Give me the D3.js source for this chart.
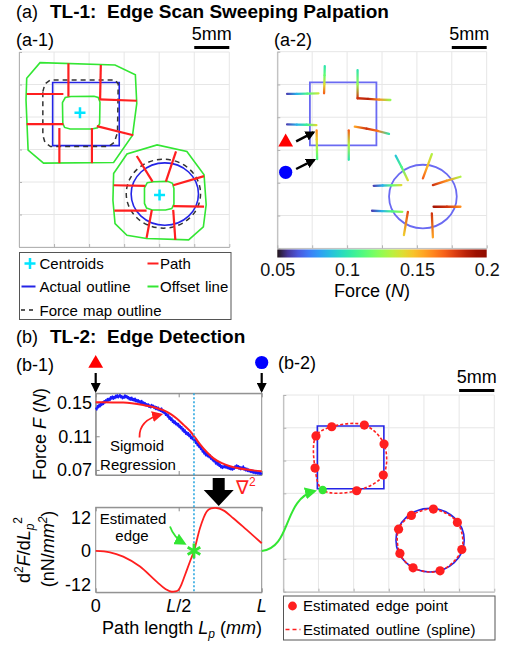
<!DOCTYPE html>
<html>
<head>
<meta charset="utf-8">
<script src="https://d3js.org/d3.v7.min.js"></script>
<style>
  body { margin: 0; background: #fff; }
  svg { font-family: "Liberation Sans", Arial, sans-serif; }
  .ax path, .ax line { stroke: #b3b3b3; }
  .bx path, .bx line { stroke: #8c8c8c; }
</style>
</head>
<body>
<script>

// ---------- data ----------
var gridMM = [0, 5, 10, 15, 20, 25, 30];

// (a-1) geometry in mm, y measured downward
var actualSquare = [[4.8, 4.7], [14.3, 4.7], [14.3, 14.4], [4.8, 14.4]];
var actualCircle = [20.8, 21.85, 4.8];   // cx, cy, r
var centroids = [[8.7, 9.35], [20.05, 22.0]];
var forceMapSquare = [[3.4, 6.1], [3.7, 4.9], [4.5, 4.3], [13.7, 4.3], [14.15, 4.9], [14.05, 12.4],
                      [13.6, 13.9], [12.8, 14.55], [4.5, 14.55], [3.7, 13.9], [3.4, 12.8]];
var forceMapCircle = [20.6, 21.8, 5.3];
var offsetInner = [
  [[6.2, 7.8], [6.6, 7.0], [7.4, 6.85], [10.7, 6.8], [11.3, 7.0], [11.55, 7.7], [11.5, 11.0],
   [11.2, 11.65], [10.4, 11.85], [7.3, 11.85], [6.5, 11.6], [6.25, 11.0]],
  [[17.9, 20.9], [18.3, 20.1], [19.2, 19.95], [21.2, 19.9], [21.9, 20.2], [22.1, 21.0], [22.1, 23.4],
   [21.8, 24.1], [20.9, 24.3], [19.0, 24.3], [18.2, 24.0], [17.9, 23.3]]
];
var offsetOuter = [
  [[1.1, 4.05], [3.0, 1.64], [13.7, 2.0], [16.6, 3.5], [16.8, 7.9], [16.2, 12.8], [13.5, 17.0],
   [3.5, 17.1], [1.3, 15.1], [1.0, 7.4]],
  [[13.5, 18.7], [15.4, 15.7], [19.7, 14.3], [23.95, 15.3], [26.4, 18.9], [26.7, 23.5], [26.3, 26.9],
   [24.2, 28.9], [18.2, 28.7], [15.4, 28.2], [13.7, 26.4], [13.4, 22.8]]
];
var scanPaths = [
  [[7.05, 1.74], [7.05, 6.87]], [[11.67, 2.0], [11.57, 7.28]], [[11.47, 7.28], [16.8, 7.5]],
  [[1.1, 6.46], [6.33, 6.46]], [[1.1, 11.1], [6.33, 11.1]], [[11.1, 11.4], [16.3, 12.8]],
  [[5.76, 11.7], [5.76, 17.1]], [[10.4, 11.7], [10.4, 17.1]],
  [[16.8, 16.0], [19.05, 19.95]], [[22.4, 15.3], [20.95, 19.95]], [[22.0, 20.5], [26.4, 19.1]],
  [[13.5, 20.5], [18.0, 20.6]], [[13.6, 24.4], [18.2, 24.4]], [[22.0, 23.7], [26.4, 23.8]],
  [[18.95, 24.3], [18.2, 28.6]], [[22.0, 24.3], [22.3, 28.9]]
];

// (a-2) force map traces: [x mm, y mm, force N]
var a2Square = [[4.67, 4.67], [14.2, 4.67], [14.2, 14.3], [4.67, 14.3]];
var a2Circle = [20.86, 22.1, 4.85];
var forceTraces = [
  [[1.4, 6.45, 0.06], [2.8, 6.43, 0.085], [4.3, 6.4, 0.11], [5.9, 6.36, 0.135]],
  [[6.8, 2.2, 0.1], [6.77, 3.6, 0.115], [6.74, 5.0, 0.14], [6.7, 6.35, 0.17]],
  [[11.5, 2.8, 0.1], [11.5, 5.0, 0.125], [11.5, 7.1, 0.18], [13.0, 7.2, 0.185], [14.6, 7.3, 0.16], [16.2, 7.37, 0.125]],
  [[1.4, 11.1, 0.06], [2.8, 11.12, 0.085], [4.2, 11.15, 0.105], [5.6, 11.2, 0.14]],
  [[5.63, 12.0, 0.16], [5.65, 13.4, 0.145], [5.68, 14.9, 0.125], [5.71, 16.4, 0.11]],
  [[10.24, 12.0, 0.17], [10.24, 14.2, 0.13], [10.24, 16.5, 0.1]],
  [[11.1, 11.45, 0.155], [12.8, 11.75, 0.18], [14.4, 12.1, 0.165], [16.0, 12.55, 0.1]],
  [[16.96, 15.88, 0.09], [17.8, 17.6, 0.11], [18.7, 19.6, 0.14]],
  [[22.14, 15.62, 0.13], [21.5, 17.5, 0.15], [20.86, 19.33, 0.17]],
  [[22.29, 20.35, 0.18], [24.2, 19.7, 0.16], [26.24, 19.08, 0.13]],
  [[13.81, 20.46, 0.06], [15.1, 20.42, 0.085], [16.4, 20.39, 0.115], [17.77, 20.35, 0.14]],
  [[13.57, 24.27, 0.06], [15.0, 24.32, 0.085], [16.4, 24.37, 0.11], [17.91, 24.43, 0.125]],
  [[22.39, 23.66, 0.19], [24.3, 23.66, 0.18], [26.24, 23.66, 0.16]],
  [[18.71, 24.43, 0.175], [18.14, 27.98, 0.145]],
  [[22.14, 24.67, 0.18], [22.29, 28.33, 0.155]]
];
var colorbarTicks = [0.05, 0.1, 0.15, 0.2];

// (b-1) measured force along one path, position as fraction of L
var rawPos = [0.000,0.006,0.011,0.016,0.021,0.026,0.031,0.036,0.041,0.046,0.051,0.056,0.061,0.066,0.071,0.076,
  0.081,0.086,0.091,0.096,0.101,0.106,0.111,0.116,0.121,0.126,0.131,0.136,0.141,0.146,0.151,0.156,0.161,0.166,
  0.171,0.176,0.181,0.187,0.192,0.197,0.202,0.207,0.212,0.217,0.222,0.227,0.232,0.237,0.242,0.247,0.252,0.257,
  0.262,0.267,0.272,0.277,0.282,0.287,0.292,0.297,0.302,0.307,0.312,0.317,0.322,0.327,0.332,0.337,0.342,0.347,
  0.352,0.357,0.362,0.367,0.372,0.377,0.382,0.387,0.392,0.397,0.402,0.407,0.412,0.417,0.422,0.428,0.433,0.438,
  0.443,0.448,0.453,0.458,0.463,0.468,0.473,0.478,0.483,0.488,0.493,0.498,0.503,0.508,0.513,0.518,0.523,0.528,
  0.533,0.538,0.543,0.548,0.553,0.558,0.563,0.568,0.573,0.578,0.583,0.588,0.593,0.598,0.603,0.608,0.613,0.618,
  0.623,0.628,0.633,0.638,0.643,0.648,0.653,0.658,0.663,0.669,0.674,0.679,0.684,0.689,0.694,0.699,0.704,0.708,
  0.713,0.718,0.723,0.729,0.734,0.739,0.744,0.749,0.754,0.759,0.764,0.769,0.774,0.779,0.784,0.789,0.794,0.799,
  0.804,0.809,0.814,0.819,0.824,0.829,0.834,0.839,0.844,0.849,0.854,0.859,0.864,0.869,0.874,0.879,0.884,0.889,
  0.894,0.899,0.904,0.910,0.915,0.920,0.925,0.930,0.935,0.940,0.945,0.949,0.954,0.960,0.965,0.970,0.975,0.980,
  0.985,0.990,0.995,1.000];
var rawForce = [0.1440,0.1415,0.1462,0.1440,0.1478,0.1452,0.1490,0.1468,0.1505,0.1480,0.1520,0.1498,0.1530,
  0.1505,0.1545,0.1522,0.1550,0.1528,0.1568,0.1545,0.1575,0.1542,0.1570,0.1550,0.1585,0.1560,0.1590,0.1558,
  0.1575,0.1592,0.1560,0.1580,0.1548,0.1572,0.1555,0.1588,0.1560,0.1580,0.1550,0.1568,0.1535,0.1558,0.1530,
  0.1562,0.1528,0.1545,0.1520,0.1550,0.1512,0.1535,0.1508,0.1530,0.1498,0.1518,0.1490,0.1522,0.1485,0.1505,
  0.1478,0.1498,0.1465,0.1485,0.1458,0.1482,0.1445,0.1468,0.1440,0.1475,0.1445,0.1465,0.1432,0.1455,0.1420,
  0.1448,0.1415,0.1442,0.1405,0.1428,0.1398,0.1432,0.1385,0.1408,0.1372,0.1392,0.1350,0.1368,0.1330,0.1352,
  0.1305,0.1328,0.1290,0.1315,0.1268,0.1290,0.1252,0.1278,0.1238,0.1258,0.1225,0.1248,0.1205,0.1228,0.1190,
  0.1212,0.1165,0.1190,0.1148,0.1172,0.1125,0.1150,0.1115,0.1140,0.1098,0.1122,0.1075,0.1098,0.1062,0.1090,
  0.1045,0.1058,0.1015,0.1032,0.0990,0.1015,0.0968,0.0992,0.0945,0.0968,0.0915,0.0935,0.0892,0.0918,0.0870,
  0.0895,0.0860,0.0888,0.0848,0.0875,0.0830,0.0852,0.0812,0.0835,0.0798,0.0818,0.0772,0.0795,0.0760,0.0785,
  0.0745,0.0768,0.0728,0.0752,0.0720,0.0745,0.0728,0.0758,0.0725,0.0752,0.0718,0.0742,0.0710,0.0738,0.0705,
  0.0730,0.0700,0.0728,0.0712,0.0745,0.0725,0.0758,0.0722,0.0748,0.0712,0.0738,0.0705,0.0732,0.0715,0.0745,
  0.0702,0.0725,0.0692,0.0718,0.0685,0.0708,0.0680,0.0702,0.0672,0.0698,0.0668,0.0692,0.0662,0.0688,0.0658,
  0.0682,0.0655,0.0675,0.0652,0.0672,0.0650,0.0668];
var sigmoidFit = [[0,0.1505],[0.1,0.1502],[0.166,0.150],[0.287,0.147],[0.35,0.1445],[0.407,0.141],[0.45,0.1365],
  [0.488,0.131],[0.53,0.1235],[0.569,0.116],[0.6,0.108],[0.63,0.100],[0.67,0.091],[0.708,0.084],[0.76,0.078],
  [0.809,0.0744],[0.86,0.072],[0.91,0.0704],[0.96,0.0692],[1.0,0.0685]];
var secondDeriv = [[0,0],[0.086,-0.48],[0.166,-2.03],[0.267,-5.6],[0.367,-11.0],[0.42,-13.6],[0.458,-14.6],
  [0.48,-14.5],[0.498,-14.0],[0.518,-11.8],[0.538,-8.6],[0.568,-3.8],[0.592,0],[0.628,8.1],[0.669,14.1],
  [0.695,15.2],[0.719,15.4],[0.745,15.1],[0.769,14.5],[0.829,11.7],[0.91,7.5],[1.0,2.75]];
var edgePos = 0.592;
var forceTicks = [0.07, 0.11, 0.15];
var derivTicks = [-12, 0, 12];
var posTicks = [0, 0.5, 1];
var posTickLabels = ["0", "L/2", "L"];

// (b-2) estimated edge points, mm
var b2Square = [[4.84, 4.73], [14.3, 4.73], [14.3, 14.3], [4.84, 14.3]];
var b2Circle = [20.87, 22.14, 4.85];
var edgeSquare = [[5.6,14.5],[4.51,11.15],[4.65,6.24],[6.88,4.84],[11.52,4.58],[14.32,7.48],[14.22,12.21],[10.43,14.6]];
var edgeCircle = [[21.34,17.4],[24.75,19.43],[25.38,23.56],[22.29,26.82],[18.45,26.36],[16.58,24.17],[16.39,20.46],[18.21,18.37]];

// ---------- drawing ----------
var RED = "#ff1f1f", GREEN = "#33e633", BLUE = "#2424e6", CYAN = "#00e5ff";

var svg = d3.select("body").append("svg").attr("width", 516).attr("height", 646);
var defs = svg.append("defs");

function arrowMarker(id, color, size) {
  defs.append("marker").attr("id", id).attr("viewBox", "0 0 10 10")
    .attr("refX", 8).attr("refY", 5).attr("markerWidth", size).attr("markerHeight", size)
    .attr("markerUnits", "userSpaceOnUse").attr("orient", "auto")
    .append("path").attr("d", "M0,0L10,5L0,10z").attr("fill", color);
}
arrowMarker("arBlack", "#000", 10);
arrowMarker("arRed", RED, 11);
arrowMarker("arGreen", GREEN, 12);

function panel(x0, x1, y0, y1) {
  return { x: d3.scaleLinear().domain([0, 30]).range([x0, x1]),
           y: d3.scaleLinear().domain([0, 30]).range([y0, y1]) };
}

function drawGrid(p) {
  var g = svg.append("g");
  g.selectAll(".gx").data(gridMM).enter().append("line")
    .attr("x1", function(d) { return p.x(d); }).attr("x2", function(d) { return p.x(d); })
    .attr("y1", p.y(0)).attr("y2", p.y(30)).attr("stroke", "#e6e6e6");
  g.selectAll(".gy").data(gridMM).enter().append("line")
    .attr("y1", function(d) { return p.y(d); }).attr("y2", function(d) { return p.y(d); })
    .attr("x1", p.x(0)).attr("x2", p.x(30)).attr("stroke", "#e6e6e6");
  g.append("g").attr("class", "ax").attr("transform", "translate(0," + p.y(30) + ")")
    .call(d3.axisBottom(p.x).tickValues(gridMM).tickSize(-3).tickSizeOuter(0).tickFormat(""));
  g.append("g").attr("class", "ax").attr("transform", "translate(" + p.x(0) + ",0)")
    .call(d3.axisLeft(p.y).tickValues(gridMM).tickSize(-3).tickSizeOuter(0).tickFormat(""));
}

function ellipse(p, c) {
  return svg.append("ellipse").attr("cx", p.x(c[0])).attr("cy", p.y(c[1]))
    .attr("rx", p.x(c[0] + c[2]) - p.x(c[0])).attr("ry", p.y(c[1] + c[2]) - p.y(c[1]))
    .attr("fill", "none");
}

function scaleBar(p, ty) {
  svg.append("line").attr("x1", p.x(25)).attr("x2", p.x(30)).attr("y1", ty + 7.5).attr("y2", ty + 7.5)
    .attr("stroke", "#000").attr("stroke-width", 3);
  svg.append("text").attr("x", (p.x(25) + p.x(30)) / 2).attr("y", ty).attr("text-anchor", "middle")
    .attr("font-size", 18).text("5mm");
}

function label(x, y, txt, size, weight) {
  return svg.append("text").attr("x", x).attr("y", y).attr("font-size", size || 18)
    .attr("font-weight", weight || "normal").text(txt);
}

// titles
label(16, 18, "(a)", 18);
label(50, 18, "TL-1:  Edge Scan Sweeping Palpation", 19, "bold").style("white-space", "pre");
label(16, 46, "(a-1)", 18);
label(274, 46, "(a-2)", 18);
label(16, 343, "(b)", 18);
label(50, 343, "TL-2:  Edge Detection", 19, "bold").style("white-space", "pre");
label(16, 371, "(b-1)", 18);
label(278, 369, "(b-2)", 18);

// ---- (a-1) ----
var a1 = panel(19, 229.3, 52, 247);
drawGrid(a1);
scaleBar(a1, 40);
var lineA1 = d3.line().x(function(d) { return a1.x(d[0]); }).y(function(d) { return a1.y(d[1]); });
var closedA1 = d3.line().x(function(d) { return a1.x(d[0]); }).y(function(d) { return a1.y(d[1]); })
  .curve(d3.curveLinearClosed);

svg.selectAll(".outer").data(offsetOuter).enter().append("path")
  .attr("d", closedA1).attr("fill", "none").attr("stroke", GREEN).attr("stroke-width", 1.6);
svg.selectAll(".inner").data(offsetInner).enter().append("path")
  .attr("d", closedA1).attr("fill", "none").attr("stroke", GREEN).attr("stroke-width", 1.6);
svg.append("path").datum(actualSquare).attr("d", closedA1).attr("fill", "none")
  .attr("stroke", BLUE).attr("stroke-width", 1.6);
ellipse(a1, actualCircle).attr("stroke", BLUE).attr("stroke-width", 1.6);
svg.append("path").datum(forceMapSquare).attr("d", closedA1).attr("fill", "none")
  .attr("stroke", "#333").attr("stroke-width", 1.5).attr("stroke-dasharray", "5,4");
ellipse(a1, forceMapCircle).attr("stroke", "#333").attr("stroke-width", 1.5).attr("stroke-dasharray", "5,4");
svg.selectAll(".scan").data(scanPaths).enter().append("path")
  .attr("d", lineA1).attr("stroke", RED).attr("stroke-width", 2.2);
svg.selectAll(".cent").data(centroids).enter().append("path")
  .attr("transform", function(d) { return "translate(" + a1.x(d[0]) + "," + a1.y(d[1]) + ")"; })
  .attr("d", "M-5.5,0H5.5M0,-5.5V5.5").attr("stroke", CYAN).attr("stroke-width", 2.5);

// legend (a-1)
var lg1 = svg.append("g").attr("font-size", 15).style("word-spacing", "1px");
lg1.append("rect").attr("x", 19.5).attr("y", 252.5).attr("width", 211.5).attr("height", 67)
  .attr("fill", "#fff").attr("stroke", "#555");
lg1.append("path").attr("d", "M24.5,263.5H35.5M30,258V269").attr("stroke", CYAN).attr("stroke-width", 2.5);
lg1.append("text").attr("x", 39.5).attr("y", 268.5).text("Centroids");
lg1.append("line").attr("x1", 147.5).attr("x2", 158.5).attr("y1", 263.5).attr("y2", 263.5).attr("stroke", RED).attr("stroke-width", 2);
lg1.append("text").attr("x", 160).attr("y", 268.5).text("Path");
lg1.append("line").attr("x1", 21.5).attr("x2", 35.5).attr("y1", 286.5).attr("y2", 286.5).attr("stroke", BLUE).attr("stroke-width", 2);
lg1.append("text").attr("x", 39.5).attr("y", 292).text("Actual outline");
lg1.append("line").attr("x1", 147.5).attr("x2", 158.5).attr("y1", 286.5).attr("y2", 286.5).attr("stroke", GREEN).attr("stroke-width", 2);
lg1.append("text").attr("x", 160).attr("y", 292).text("Offset line");
lg1.append("line").attr("x1", 21).attr("x2", 36).attr("y1", 310).attr("y2", 310).attr("stroke", "#222")
  .attr("stroke-width", 1.6).attr("stroke-dasharray", "4,4");
lg1.append("text").attr("x", 39.5).attr("y", 315.5).text("Force map outline");

// ---- (a-2) ----
var a2 = panel(277.3, 486.7, 51.7, 248.3);
drawGrid(a2);
scaleBar(a2, 40);
var closedA2 = d3.line().x(function(d) { return a2.x(d[0]); }).y(function(d) { return a2.y(d[1]); })
  .curve(d3.curveLinearClosed);
svg.append("path").datum(a2Square).attr("d", closedA2).attr("fill", "none")
  .attr("stroke", "#6a6af2").attr("stroke-width", 1.8);
ellipse(a2, a2Circle).attr("stroke", "#6a6af2").attr("stroke-width", 1.8);

var forceColor = d3.scaleSequential(d3.interpolateTurbo).domain([0.05, 0.2]);
var gi = 0;
forceTraces.forEach(function(tr) {
  for (var i = 0; i < tr.length - 1; i++) {
    var a = tr[i], b = tr[i + 1], id = "fg" + (gi++);
    var grad = defs.append("linearGradient").attr("id", id).attr("gradientUnits", "userSpaceOnUse")
      .attr("x1", a2.x(a[0])).attr("y1", a2.y(a[1])).attr("x2", a2.x(b[0])).attr("y2", a2.y(b[1]));
    grad.append("stop").attr("offset", 0).attr("stop-color", forceColor(a[2]));
    grad.append("stop").attr("offset", 1).attr("stop-color", forceColor(b[2]));
    svg.append("line").attr("x1", a2.x(a[0])).attr("y1", a2.y(a[1])).attr("x2", a2.x(b[0])).attr("y2", a2.y(b[1]))
      .attr("stroke", "url(#" + id + ")").attr("stroke-width", 2.3).attr("stroke-linecap", "round");
  }
});

// start/end markers and arrows
svg.append("path").attr("d", d3.symbol().type(d3.symbolTriangle).size(95))
  .attr("transform", "translate(" + a2.x(1.2) + "," + a2.y(13.8) + ")").attr("fill", "#f00");
svg.append("circle").attr("cx", a2.x(1.2)).attr("cy", a2.y(18.4)).attr("r", 6.6).attr("fill", "#00f");
svg.append("line").attr("x1", a2.x(2.7)).attr("y1", a2.y(13.7)).attr("x2", a2.x(5.2)).attr("y2", a2.y(12.3))
  .attr("stroke", "#000").attr("stroke-width", 2.5).attr("marker-end", "url(#arBlack)");
svg.append("line").attr("x1", a2.x(2.7)).attr("y1", a2.y(17.9)).attr("x2", a2.x(5.3)).attr("y2", a2.y(16.5))
  .attr("stroke", "#000").attr("stroke-width", 2.5).attr("marker-end", "url(#arBlack)");

// colorbar
var cbx = d3.scaleLinear().domain([0.05, 0.2]).range([277.3, 486.7]);
var cbGrad = defs.append("linearGradient").attr("id", "cbGrad");
d3.range(0, 1.001, 0.05).forEach(function(t) {
  cbGrad.append("stop").attr("offset", t).attr("stop-color", d3.interpolateTurbo(t));
});
svg.append("rect").attr("x", cbx(0.05)).attr("y", 249.5).attr("width", cbx(0.2) - cbx(0.05)).attr("height", 8)
  .attr("fill", "url(#cbGrad)");
var cbAxis = svg.append("g").attr("transform", "translate(0,257.5)")
  .call(d3.axisBottom(cbx).tickValues(colorbarTicks).tickSize(0).tickPadding(6).tickFormat(d3.format("")));
cbAxis.select(".domain").remove();
cbAxis.selectAll("text").attr("font-size", 18).attr("font-family", "Liberation Sans, Arial, sans-serif").attr("fill", "#111");
var cbl = svg.append("text").attr("x", 372).attr("y", 297).attr("text-anchor", "middle").attr("font-size", 18);
cbl.append("tspan").text("Force (");
cbl.append("tspan").attr("font-style", "italic").text("N");
cbl.append("tspan").text(")");

// ---- (b-1) ----
var bx = d3.scaleLinear().domain([0, 1]).range([95.7, 261.7]);
var fy = d3.scaleLinear().domain([0.064, 0.161]).range([475, 393.3]);
var dy = d3.scaleLinear().domain([-14.8, 15.6]).range([592.3, 507.3]);

// top plot
svg.append("rect").attr("x", bx(0)).attr("y", fy(0.161)).attr("width", bx(1) - bx(0)).attr("height", fy(0.064) - fy(0.161))
  .attr("fill", "none").attr("stroke", "#8c8c8c");
svg.append("g").attr("class", "bx").attr("transform", "translate(0," + fy(0.064) + ")")
  .call(d3.axisBottom(bx).tickValues(posTicks).tickSize(-4).tickSizeOuter(0).tickFormat(""));
svg.append("g").attr("class", "bx").attr("transform", "translate(0," + fy(0.161) + ")")
  .call(d3.axisTop(bx).tickValues(posTicks).tickSize(-4).tickSizeOuter(0).tickFormat(""));
svg.append("g").attr("class", "bx").attr("transform", "translate(" + bx(0) + ",0)")
  .call(d3.axisLeft(fy).tickValues(forceTicks).tickSize(-4).tickSizeOuter(0).tickFormat(""));
svg.selectAll(".fyt").data(forceTicks).enter().append("text")
  .attr("x", 92).attr("y", function(d) { return fy(d) + 6.5; }).attr("text-anchor", "end").attr("font-size", 18)
  .text(function(d) { return d3.format(".2f")(d); });

var fLine = d3.line().x(function(d) { return bx(d[0]); }).y(function(d) { return fy(d[1]); });
svg.append("path").datum(d3.zip(rawPos, rawForce)).attr("d", fLine).attr("fill", "none")
  .attr("stroke", "#1a1aff").attr("stroke-width", 1.8).attr("stroke-linejoin", "round");
svg.append("path").datum(sigmoidFit).attr("d", fLine.curve(d3.curveMonotoneX)).attr("fill", "none")
  .attr("stroke", RED).attr("stroke-width", 2);

var sg = svg.append("g").attr("font-size", 15).attr("text-anchor", "middle");
sg.append("text").attr("x", 137).attr("y", 451).text("Sigmoid");
sg.append("text").attr("x", 138).attr("y", 469.5).text("Regression");
svg.append("path").attr("d", "M139.5,437.5C139,425 147,418 161,414.5").attr("fill", "none")
  .attr("stroke", RED).attr("stroke-width", 1.8).attr("marker-end", "url(#arRed)");

var yl1 = svg.append("text").attr("transform", "translate(46,434) rotate(-90)").attr("text-anchor", "middle").attr("font-size", 18);
yl1.append("tspan").text("Force ");
yl1.append("tspan").attr("font-style", "italic").text("F");
yl1.append("tspan").text(" (");
yl1.append("tspan").attr("font-style", "italic").text("N");
yl1.append("tspan").text(")");

// start / end markers
svg.append("path").attr("d", d3.symbol().type(d3.symbolTriangle).size(95))
  .attr("transform", "translate(" + bx(0) + ",363.5)").attr("fill", "#f00");
svg.append("circle").attr("cx", bx(1)).attr("cy", 362.5).attr("r", 6.6).attr("fill", "#00f");
[0, 1].forEach(function(t) {
  svg.append("line").attr("x1", bx(t)).attr("x2", bx(t)).attr("y1", 373).attr("y2", 391)
    .attr("stroke", "#000").attr("stroke-width", 2.2).attr("marker-end", "url(#arBlack)");
});

// bottom plot
svg.append("rect").attr("x", bx(0)).attr("y", dy(15.6)).attr("width", bx(1) - bx(0)).attr("height", dy(-14.8) - dy(15.6))
  .attr("fill", "none").attr("stroke", "#8c8c8c");
svg.append("line").attr("x1", bx(0)).attr("x2", bx(1)).attr("y1", dy(0)).attr("y2", dy(0)).attr("stroke", "#bdbdbd");
svg.append("g").attr("class", "bx").attr("transform", "translate(0," + dy(-14.8) + ")")
  .call(d3.axisBottom(bx).tickValues(posTicks).tickSize(-4).tickSizeOuter(0).tickFormat(""));
svg.append("g").attr("class", "bx").attr("transform", "translate(0," + dy(15.6) + ")")
  .call(d3.axisTop(bx).tickValues(posTicks).tickSize(-4).tickSizeOuter(0).tickFormat(""));
svg.selectAll(".dyt").data(derivTicks).enter().append("text")
  .attr("x", 91).attr("y", function(d) { return dy(d) + 6.5; }).attr("text-anchor", "end").attr("font-size", 18)
  .text(function(d) { return d; });
svg.selectAll(".pxt").data(posTicks).enter().append("text")
  .attr("x", function(d) { return bx(d); }).attr("y", 612).attr("text-anchor", "middle").attr("font-size", 18)
  .each(function(d, i) {
    var s = posTickLabels[i], t = d3.select(this);
    if (s.charAt(0) === "L") {
      t.append("tspan").attr("font-style", "italic").text("L");
      if (s.length > 1) t.append("tspan").text(s.slice(1));
    } else t.text(s);
  });

var dLine = d3.line().x(function(d) { return bx(d[0]); }).y(function(d) { return dy(d[1]); }).curve(d3.curveMonotoneX);
svg.append("path").datum(secondDeriv).attr("d", dLine).attr("fill", "none").attr("stroke", RED).attr("stroke-width", 1.8);

// edge line and star
svg.append("line").attr("x1", bx(edgePos)).attr("x2", bx(edgePos)).attr("y1", fy(0.161)).attr("y2", dy(-14.8))
  .attr("stroke", "#2ea8e0").attr("stroke-width", 1.6).attr("stroke-dasharray", "2,2");
svg.append("path").attr("d", d3.symbol().type(d3.symbolAsterisk).size(150))
  .attr("transform", "translate(" + bx(edgePos) + "," + dy(0) + ")").attr("fill", "none")
  .attr("stroke", GREEN).attr("stroke-width", 2.8);

var eg = svg.append("g").attr("font-size", 15).attr("text-anchor", "middle");
eg.append("text").attr("x", 133).attr("y", 524).text("Estimated");
eg.append("text").attr("x", 132).attr("y", 541).text("edge");
svg.append("path").attr("d", "M170,526.5C173,535 178,540 184.5,543.5").attr("fill", "none")
  .attr("stroke", GREEN).attr("stroke-width", 1.8).attr("marker-end", "url(#arGreen)");

// big arrow and nabla
var ax0 = 218.7;
svg.append("path").attr("d", "M" + (ax0 - 6) + ",478H" + (ax0 + 6) + "V490H" + (ax0 + 15) + "L" + ax0 + ",506L" +
  (ax0 - 15) + ",490H" + (ax0 - 6) + "Z").attr("fill", "#000");
var nb = svg.append("text").attr("x", 236).attr("y", 494).attr("font-size", 19).attr("fill", RED);
nb.append("tspan").text("\u2207");
nb.append("tspan").attr("font-size", 12).attr("dy", -8).text("2");

// y label of bottom plot
var yl2 = svg.append("text").attr("transform", "translate(30,550) rotate(-90)").attr("text-anchor", "middle").attr("font-size", 18);
yl2.append("tspan").text("d");
yl2.append("tspan").attr("font-size", 12).attr("dy", -7).text("2");
yl2.append("tspan").attr("font-style", "italic").attr("dy", 7).text("F");
yl2.append("tspan").text("/d");
yl2.append("tspan").attr("font-style", "italic").text("L");
yl2.append("tspan").attr("font-style", "italic").attr("font-size", 12).attr("dy", 4).text("p");
yl2.append("tspan").attr("font-size", 12).attr("dy", -12).text("2");
var yl3 = svg.append("text").attr("transform", "translate(54,549) rotate(-90)").attr("text-anchor", "middle").attr("font-size", 18);
yl3.append("tspan").text("(nN/");
yl3.append("tspan").attr("font-style", "italic").text("mm");
yl3.append("tspan").attr("font-style", "italic").attr("font-size", 12).attr("dy", -7).text("2");
yl3.append("tspan").attr("dy", 7).text(")");

var xl = svg.append("text").attr("x", 182).attr("y", 634).attr("text-anchor", "middle").attr("font-size", 18);
xl.append("tspan").text("Path length ");
xl.append("tspan").attr("font-style", "italic").text("L");
xl.append("tspan").attr("font-style", "italic").attr("font-size", 12).attr("dy", 4).text("p");
xl.append("tspan").attr("dy", -4).text(" (");
xl.append("tspan").attr("font-style", "italic").text("mm");
xl.append("tspan").text(")");

// ---- (b-2) ----
var b2 = panel(283.3, 494.3, 395, 591.7);
drawGrid(b2);
scaleBar(b2, 383);
var closedB2 = d3.line().x(function(d) { return b2.x(d[0]); }).y(function(d) { return b2.y(d[1]); })
  .curve(d3.curveLinearClosed);
svg.append("path").datum(b2Square).attr("d", closedB2).attr("fill", "none").attr("stroke", BLUE).attr("stroke-width", 1.6);
ellipse(b2, b2Circle).attr("stroke", BLUE).attr("stroke-width", 1.6);
var spline = d3.line().x(function(d) { return b2.x(d[0]); }).y(function(d) { return b2.y(d[1]); })
  .curve(d3.curveCatmullRomClosed.alpha(0.5));
[edgeSquare, edgeCircle].forEach(function(pts) {
  svg.append("path").datum(pts).attr("d", spline).attr("fill", "none").attr("stroke", RED)
    .attr("stroke-width", 1.6).attr("stroke-dasharray", "3,2");
});
svg.selectAll(".ep").data(edgeSquare.slice(1).concat(edgeCircle)).enter().append("circle")
  .attr("cx", function(d) { return b2.x(d[0]); }).attr("cy", function(d) { return b2.y(d[1]); })
  .attr("r", 4.6).attr("fill", RED);
svg.append("circle").attr("cx", b2.x(edgeSquare[0][0])).attr("cy", b2.y(edgeSquare[0][1])).attr("r", 4.2).attr("fill", GREEN);

// green link arrow from (b-1) to (b-2)
var s0 = [bx(1), dy(0)], e0 = [b2.x(edgeSquare[0][0]) - 8, b2.y(edgeSquare[0][1]) + 1];
svg.append("path").attr("d", "M" + s0[0] + "," + s0[1] + "C" + (s0[0] + 30) + "," + (s0[1] - 3) + " " +
  (e0[0] - 32) + "," + (e0[1] + 8) + " " + e0[0] + "," + e0[1])
  .attr("fill", "none").attr("stroke", GREEN).attr("stroke-width", 2).attr("marker-end", "url(#arGreen)");

// legend (b-2)
var lg2 = svg.append("g").attr("font-size", 15).style("word-spacing", "2px");
lg2.append("rect").attr("x", 283.5).attr("y", 596).attr("width", 211.5).attr("height", 44)
  .attr("fill", "#fff").attr("stroke", "#555");
lg2.append("circle").attr("cx", 292.5).attr("cy", 606).attr("r", 4.4).attr("fill", RED);
lg2.append("text").attr("x", 303).attr("y", 611).text("Estimated edge point");
lg2.append("line").attr("x1", 285.5).attr("x2", 300.5).attr("y1", 629.5).attr("y2", 629.5).attr("stroke", RED)
  .attr("stroke-width", 1.6).attr("stroke-dasharray", "4,3");
lg2.append("text").attr("x", 303).attr("y", 634.5).text("Estimated outline (spline)");

</script>
</body>
</html>
